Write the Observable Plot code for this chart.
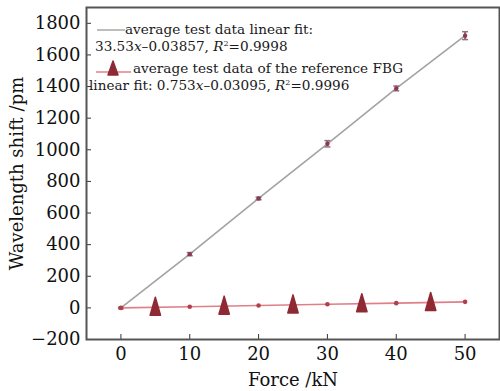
<!DOCTYPE html>
<html>
<head>
<meta charset="utf-8">
<script src="https://cdn.jsdelivr.net/npm/d3@7"></script>
<script src="https://cdn.jsdelivr.net/npm/@observablehq/plot@0.6"></script>
<style>
  html, body { margin: 0; padding: 0; background: #fff; }
  #wrap { position: relative; width: 500px; height: 391px; }
  #legend { position: absolute; left: 0; top: 0; pointer-events: none; }
  #legend text { font-family: "DejaVu Serif", serif; font-size: 13.6px; fill: #1a1a1a; }
</style>
</head>
<body>
<div id="wrap"></div>
<script>
// Force (kN)
const force = [0, 10, 20, 30, 40, 50];
// Average test data (pm)
const testShift = [0, 340, 692, 1038, 1388, 1722];
const testErr = [5, 10, 8, 20, 15, 25];
// Reference FBG (pm)
const refShift = [0, 7, 15, 23, 30, 38];
// Triangle markers on the reference-FBG line
const refMarkerForce = [5, 15, 25, 35, 45];
const refMarkerShift = [4, 11, 19, 26, 34];
const xTicks = [0, 10, 20, 30, 40, 50];
const yTicks = [-200, 0, 200, 400, 600, 800, 1000, 1200, 1400, 1600, 1800];

const test = force.map((f, i) => ({x: f, y: testShift[i], lo: testShift[i] - testErr[i], hi: testShift[i] + testErr[i]}));
const ref = force.map((f, i) => ({x: f, y: refShift[i]}));
const refMarkers = refMarkerForce.map((f, i) => ({x: f, y: refMarkerShift[i]}));

const tallTriangle = {
  draw(ctx) {
    ctx.moveTo(0, -10);
    ctx.lineTo(5.2, 8);
    ctx.lineTo(-5.2, 8);
    ctx.closePath();
  }
};
const cap = {
  draw(ctx) { ctx.moveTo(-3, 0); ctx.lineTo(3, 0); }
};

const chart = Plot.plot({
  width: 500,
  height: 391,
  marginLeft: 86,
  marginRight: 1,
  marginTop: 7,
  marginBottom: 52,
  style: {fontFamily: "DejaVu Serif", fontSize: "18px", color: "#111", background: "#fff"},
  x: {domain: [-5, 55], ticks: xTicks, labelArrow: "none"},
  y: {domain: [-200, 1900], ticks: yTicks, labelArrow: "none"},
  marks: [
    Plot.axisX({ticks: xTicks, tickSize: -5, tickPadding: 13, label: "Force /kN", labelArrow: "none", labelAnchor: "center", labelOffset: 46, fontSize: 18, stroke: "#333", tickFormat: d => d}),
    Plot.axisY({ticks: yTicks, tickSize: -5, tickPadding: 11, label: "Wavelength shift /pm", labelArrow: "none", labelAnchor: "center", labelOffset: 76, fontSize: 18, stroke: "#333", tickFormat: d => d < 0 ? "\u2212" + Math.abs(d) : String(d)}),
    Plot.line(test, {x: "x", y: "y", stroke: "#a3a3a3", strokeWidth: 1.6}),
    Plot.ruleX(test, {x: "x", y1: "lo", y2: "hi", stroke: "#957080", strokeWidth: 2.2}),
    Plot.dot(test, {x: "x", y: "lo", symbol: cap, stroke: "#957080", strokeWidth: 1.5}),
    Plot.dot(test, {x: "x", y: "hi", symbol: cap, stroke: "#957080", strokeWidth: 1.5}),
    Plot.dot(test, {x: "x", y: "y", r: 2.2, fill: "#8a3a50", stroke: "none"}),
    Plot.line(ref, {x: "x", y: "y", stroke: "#e07f88", strokeWidth: 1.6}),
    Plot.dot(ref, {x: "x", y: "y", r: 2.3, fill: "#b0404e", stroke: "none"}),
    Plot.dot(refMarkers, {x: "x", y: "y", symbol: tallTriangle, fill: "#8f2a34", stroke: "#8f2a34", strokeWidth: 1.5, strokeLinejoin: "round"}),
    Plot.frame({stroke: "#555", strokeWidth: 2})
  ]
});

const wrap = document.getElementById("wrap");
wrap.appendChild(chart);

// Legend overlay
const ns = "http://www.w3.org/2000/svg";
const leg = document.createElementNS(ns, "svg");
leg.setAttribute("id", "legend");
leg.setAttribute("width", 500);
leg.setAttribute("height", 391);
leg.innerHTML = `
  <line x1="97" y1="30" x2="125" y2="30" stroke="#a3a3a3" stroke-width="1.4"/>
  <text x="125" y="34">average test data linear fit:</text>
  <text x="95" y="51">33.53<tspan font-style="italic">x</tspan>\u20130.03857, <tspan font-style="italic">R</tspan><tspan font-size="8" dy="-5">2</tspan><tspan dy="5">=0.9998</tspan></text>
  <line x1="96" y1="72" x2="131" y2="72" stroke="#e07f88" stroke-width="1.6"/>
  <path d="M113,61 L118,75 L108,75 Z" fill="#8f2a34" stroke="#8f2a34" stroke-width="1.5" stroke-linejoin="round"/>
  <text x="133" y="73">average test data of the reference FBG</text>
  <text x="89" y="90">linear fit: 0.753<tspan font-style="italic">x</tspan>\u20130.03095, <tspan font-style="italic">R</tspan><tspan font-size="8" dy="-5">2</tspan><tspan dy="5">=0.9996</tspan></text>
`;
wrap.appendChild(leg);
</script>
</body>
</html>
